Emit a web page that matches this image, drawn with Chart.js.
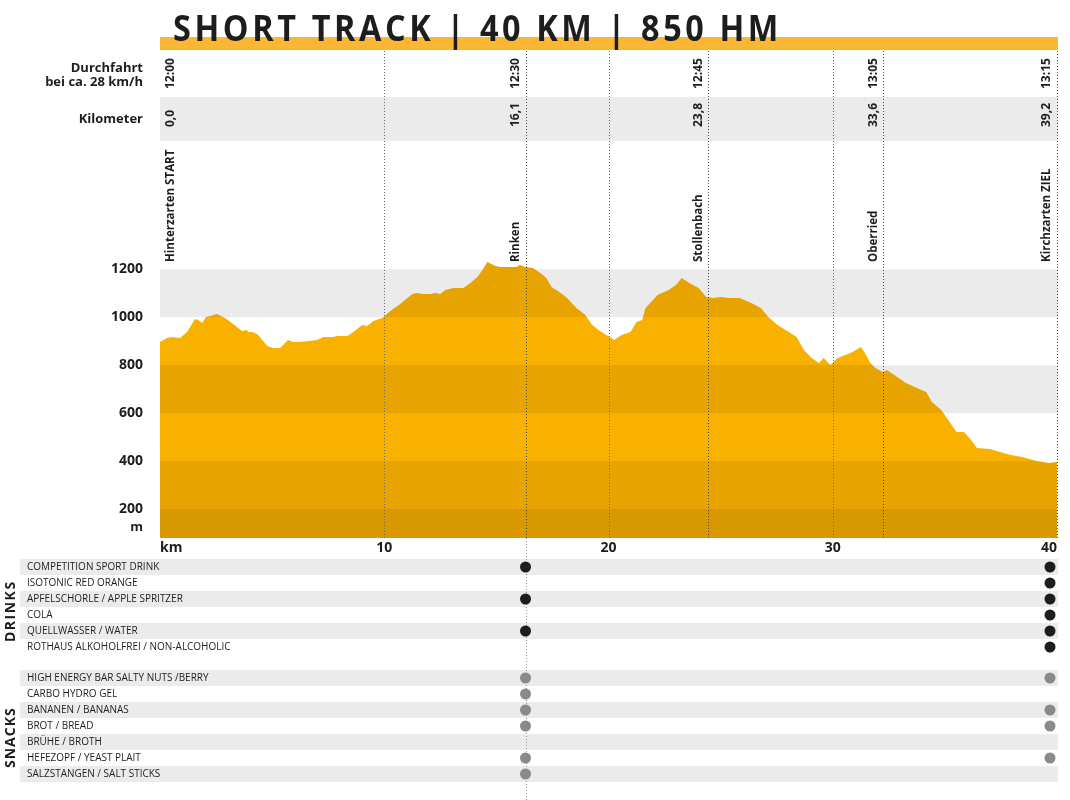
<!DOCTYPE html>
<html>
<head>
<meta charset="utf-8">
<script src="https://cdn.jsdelivr.net/npm/chart.js@4.4.0/dist/chart.umd.min.js"></script>
<style>
  html, body { margin: 0; padding: 0; background: #fff; }
</style>
</head>
<body>
<canvas id="profil" width="1070" height="800"></canvas>
<script>
// Höhenprofil Short Track
const title = 'SHORT TRACK | 40 KM | 850 HM';

const profileKm = [0, 0.31, 0.54, 0.89, 1.21, 1.56, 1.70, 1.88, 2.05, 2.23,
  2.54, 2.90, 3.26, 3.66, 3.88, 3.93, 4.11, 4.33, 4.60, 4.78,
  5.04, 5.36, 5.71, 5.94, 6.25, 7.01, 7.28, 7.72, 7.90, 8.35,
  8.62, 9.02, 9.24, 9.51, 9.91, 10.27, 10.71, 11.25, 11.47, 11.70,
  12.05, 12.28, 12.50, 12.72, 13.08, 13.53, 13.84, 14.15, 14.38, 14.60,
  14.96, 15.18, 15.45, 15.89, 16.05, 16.29, 16.63, 16.96, 17.23, 17.46,
  17.81, 18.15, 18.57, 18.97, 19.24, 19.55, 19.91, 20.25, 20.58, 20.98,
  21.25, 21.50, 21.65, 22.19, 22.68, 23.01, 23.26, 23.68, 24.02, 24.36,
  24.69, 25.03, 25.36, 25.85, 26.37, 26.79, 27.13, 27.54, 28.04, 28.39,
  28.71, 29.06, 29.38, 29.60, 29.89, 30.22, 30.57, 30.89, 31.25, 31.41,
  31.65, 31.90, 32.23, 32.41, 32.75, 33.26, 33.75, 34.17, 34.42, 34.84,
  35.09, 35.52, 35.85, 36.10, 36.43, 37.00, 37.46, 37.95, 38.44, 39.10,
  39.63, 40];
const profileElev = [897, 913, 917, 913, 938, 992, 988, 976, 1001, 1005,
  1013, 997, 972, 942, 947, 938, 938, 930, 901, 880,
  872, 872, 905, 897, 897, 905, 917, 917, 922, 922,
  938, 967, 963, 984, 997, 1026, 1055, 1097, 1101, 1097,
  1097, 1101, 1097, 1113, 1122, 1122, 1142, 1167, 1197, 1230,
  1213, 1209, 1209, 1209, 1217, 1209, 1205, 1184, 1163, 1126,
  1105, 1080, 1038, 1009, 972, 947, 926, 905, 926, 938,
  980, 988, 1038, 1092, 1113, 1134, 1163, 1138, 1122, 1084,
  1080, 1084, 1080, 1080, 1059, 1038, 1001, 967, 938, 917,
  863, 830, 809, 830, 801, 830, 842, 855, 876, 855,
  813, 788, 772, 780, 759, 726, 705, 688, 647, 613,
  580, 522, 522, 497, 455, 451, 438, 426, 417, 401,
  392, 397];

const yTicks = [200, 400, 600, 800, 1000, 1200];
const xTicks = [0, 10, 20, 30, 40];

// Orte, Durchfahrtszeiten, Kilometer
const stations = ['Hinterzarten START', 'Rinken', 'Stollenbach', 'Oberried', 'Kirchzarten ZIEL'];
const stationKm = [0, 16.3, 24.45, 32.25, 40];
const stationKmLabel = ['0,0', '16,1', '23,8', '33,6', '39,2'];
const stationTime = ['12:00', '12:30', '12:45', '13:05', '13:15'];

// Verpflegung
const drinks = ['COMPETITION SPORT DRINK', 'ISOTONIC RED ORANGE', 'APFELSCHORLE / APPLE SPRITZER',
  'COLA', 'QUELLWASSER / WATER', 'ROTHAUS ALKOHOLFREI / NON-ALCOHOLIC'];
const drinksRinken = [1, 0, 1, 0, 1, 0];
const drinksZiel = [1, 1, 1, 1, 1, 1];
const snacks = ['HIGH ENERGY BAR SALTY NUTS /BERRY', 'CARBO HYDRO GEL', 'BANANEN / BANANAS',
  'BROT / BREAD', 'BRÜHE / BROTH', 'HEFEZOPF / YEAST PLAIT', 'SALZSTANGEN / SALT STICKS'];
const snacksRinken = [1, 1, 1, 1, 0, 1, 1];
const snacksZiel = [1, 0, 1, 1, 0, 1, 0];

const ink = '#1d1d1b';
const grey = '#ebebeb';
const font = '"Open Sans", sans-serif';
const bandEdges = [80, 200, 400, 600, 800, 1000, 1730];
const bandColors = ['#d89800', '#e7a300', '#f9b100', '#e7a300', '#f9b100', '#e7a300'];
const greyBands = [[600, 800], [1000, 1200]];

function bandFill(context) {
  const chart = context.chart;
  const a = chart.chartArea;
  if (!a) return bandColors[2];
  const ys = chart.scales.y;
  const h = a.bottom - a.top;
  const g = chart.ctx.createLinearGradient(0, a.bottom, 0, a.top);
  const f = v => Math.min(1, Math.max(0, (a.bottom - ys.getPixelForValue(v)) / h));
  bandColors.forEach((c, i) => {
    g.addColorStop(f(bandEdges[i]), c);
    g.addColorStop(f(bandEdges[i + 1]), c);
  });
  return g;
}

function txt(ctx, s, x, y, o) {
  ctx.save();
  ctx.font = o.font;
  ctx.fillStyle = o.color || ink;
  ctx.textAlign = o.align || 'left';
  ctx.textBaseline = 'middle';
  if (o.spacing) ctx.letterSpacing = o.spacing;
  ctx.translate(x, y);
  if (o.rot) ctx.rotate(-Math.PI / 2);
  ctx.scale(o.sx || 1, 1);
  ctx.fillText(s, 0, 0);
  ctx.restore();
}

function dotted(ctx, x, y0, y1, color) {
  ctx.save();
  ctx.strokeStyle = color;
  ctx.lineWidth = 1;
  ctx.setLineDash([1, 2]);
  ctx.beginPath();
  ctx.moveTo(Math.round(x) + 0.5, y0);
  ctx.lineTo(Math.round(x) + 0.5, y1);
  ctx.stroke();
  ctx.restore();
}

const deko = {
  id: 'deko',
  beforeDraw(chart) {
    const { ctx, chartArea: a, scales: { y } } = chart;
    const w = a.right - a.left + 1;
    ctx.save();
    ctx.fillStyle = '#fff';
    ctx.fillRect(0, 0, chart.width, chart.height);

    // Titel mit gelbem Balken
    ctx.fillStyle = '#fbb633';
    ctx.fillRect(a.left, 37, w, 13);
    ctx.font = 'bold 36px ' + font;
    ctx.letterSpacing = '4px';
    const tw = ctx.measureText(title).width;
    txt(ctx, title, 173, 31, { font: 'bold 36px ' + font, spacing: '4px', sx: 609 / tw });

    // Kilometerzeile
    ctx.fillStyle = grey;
    ctx.fillRect(a.left, 97, w, 44);

    // graue Höhenbänder
    greyBands.forEach(([lo, hi]) => {
      const t = y.getPixelForValue(hi), b = y.getPixelForValue(lo);
      ctx.fillRect(a.left, t, w, b - t);
    });

    // Tabellenzeilen
    drinks.forEach((d, i) => { if (i % 2 === 0) ctx.fillRect(20, 559 + i * 16, a.right + 1 - 20, 16); });
    snacks.forEach((d, i) => { if (i % 2 === 0) ctx.fillRect(20, 670 + i * 16, a.right + 1 - 20, 16); });
    ctx.restore();
  },
  afterDatasetsDraw(chart) {
    const { ctx, chartArea: a, scales: { x, y } } = chart;
    const head = 'bold 13px ' + font;

    // Gitterlinien alle 10 km
    xTicks.slice(1, -1).forEach(k => dotted(ctx, x.getPixelForValue(k), 51, a.bottom, '#6b6b6b'));

    // Orte
    stations.forEach((s, i) => {
      const px = x.getPixelForValue(stationKm[i]);
      if (i > 0) dotted(ctx, px, 51, a.bottom, '#4a4a4a');
      const tx = i === 0 ? px + 11 : px - 10;
      txt(ctx, s, tx, 262, { font: 'bold 12px ' + font, rot: true, sx: 0.96 });
      txt(ctx, stationTime[i], tx, 89, { font: 'bold 12px ' + font, rot: true });
      txt(ctx, stationKmLabel[i], tx, 127, { font: 'bold 12px ' + font, rot: true });
    });

    // Kopfzeilen links
    txt(ctx, 'Durchfahrt', 143, 68, { font: head, align: 'right' });
    txt(ctx, 'bei ca. 28 km/h', 143, 82, { font: head, align: 'right' });
    txt(ctx, 'Kilometer', 143, 119, { font: head, align: 'right' });
    txt(ctx, 'm', 143, 527, { font: head, align: 'right' });

    // Verpflegungstabelle
    const rinkenX = x.getPixelForValue(stationKm[1]);
    const zielX = Math.min(x.getPixelForValue(stationKm[4]), a.right - 7);
    dotted(ctx, rinkenX, a.bottom, chart.height, '#9a9a9a');
    const rowFont = '10.5px ' + font;
    drinks.forEach((d, i) => {
      const cy = 567 + i * 16;
      txt(ctx, d, 27, cy, { font: rowFont, sx: 0.95 });
      ctx.fillStyle = ink;
      [[drinksRinken, rinkenX], [drinksZiel, zielX]].forEach(([arr, px]) => {
        if (arr[i]) { ctx.beginPath(); ctx.arc(px, cy, 5.5, 0, Math.PI * 2); ctx.fill(); }
      });
    });
    snacks.forEach((d, i) => {
      const cy = 678 + i * 16;
      txt(ctx, d, 27, cy, { font: rowFont, sx: 0.95 });
      ctx.fillStyle = '#8a8a8a';
      [[snacksRinken, rinkenX], [snacksZiel, zielX]].forEach(([arr, px]) => {
        if (arr[i]) { ctx.beginPath(); ctx.arc(px, cy, 5.5, 0, Math.PI * 2); ctx.fill(); }
      });
    });
    txt(ctx, 'DRINKS', 11, 642, { font: 'bold 14px ' + font, rot: true, spacing: '1.5px' });
    txt(ctx, 'SNACKS', 11, 768, { font: 'bold 14px ' + font, rot: true, spacing: '1px' });
  }
};

const ctx = document.getElementById('profil').getContext('2d');
const profilChart = new Chart(ctx, {
  type: 'line',
  data: {
    datasets: [{
      label: 'Höhe',
      data: profileKm.map((k, i) => ({ x: k, y: profileElev[i] })),
      fill: 'start',
      backgroundColor: bandFill,
      borderWidth: 0,
      pointRadius: 0,
      tension: 0
    }]
  },
  options: {
    responsive: false,
    animation: false,
    layout: { padding: { top: 142, right: 13, bottom: 242, left: 0 } },
    plugins: { legend: { display: false }, tooltip: { enabled: false } },
    scales: {
      x: {
        type: 'linear',
        min: 0,
        max: 40,
        grid: { display: false, drawTicks: false },
        border: { display: false },
        afterBuildTicks: s => { s.ticks = xTicks.map(v => ({ value: v })); },
        afterFit: s => { s.height = 20; },
        ticks: {
          align: 'inner',
          padding: 2,
          maxRotation: 0,
          color: ink,
          font: { family: 'Open Sans', weight: 'bold', size: 14 },
          callback: v => v === 0 ? 'km' : String(v)
        }
      },
      y: {
        min: 80,
        max: 1730,
        grid: { display: false, drawTicks: false },
        border: { display: false },
        afterBuildTicks: s => { s.ticks = yTicks.map(v => ({ value: v })); },
        afterFit: s => { s.width = 160; },
        ticks: {
          padding: 17,
          color: ink,
          font: { family: 'Open Sans', weight: 'bold', size: 14 },
          callback: v => String(v)
        }
      }
    }
  },
  plugins: [deko]
});
</script>
</body>
</html>
